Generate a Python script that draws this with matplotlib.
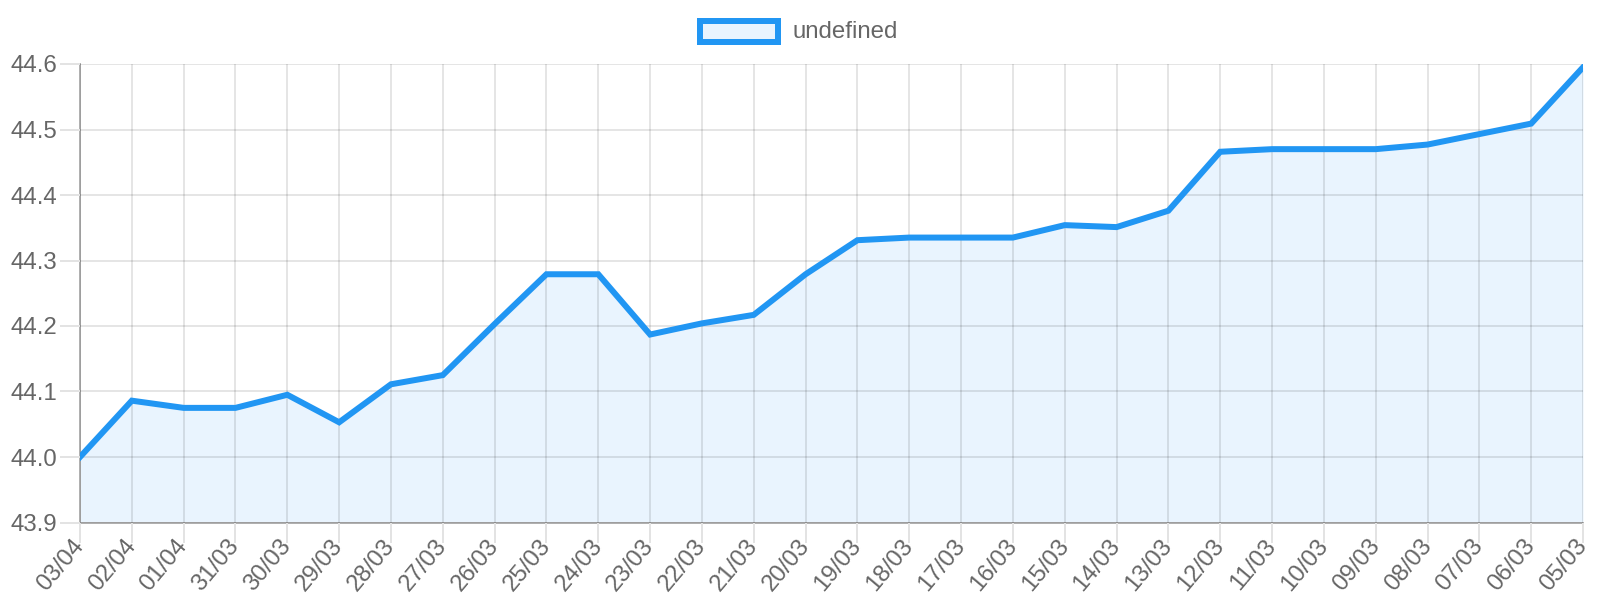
#!/usr/bin/env python3
import matplotlib

matplotlib.use("Agg")
import matplotlib.pyplot as plt
from matplotlib.patches import Rectangle

DATES = [
    "03/04", "02/04", "01/04", "31/03", "30/03", "29/03", "28/03", "27/03",
    "26/03", "25/03", "24/03", "23/03", "22/03", "21/03", "20/03", "19/03",
    "18/03", "17/03", "16/03", "15/03", "14/03", "13/03", "12/03", "11/03",
    "10/03", "09/03", "08/03", "07/03", "06/03", "05/03",
]
VALUES = [
    44.000, 44.086, 44.075, 44.075, 44.095, 44.053, 44.111, 44.125,
    44.203, 44.279, 44.279, 44.187, 44.204, 44.217, 44.279, 44.331,
    44.335, 44.335, 44.335, 44.354, 44.351, 44.376, 44.466, 44.470,
    44.470, 44.470, 44.477, 44.493, 44.509, 44.595,
]
Y_TICKS = [43.9, 44.0, 44.1, 44.2, 44.3, 44.4, 44.5, 44.6]
LEGEND_LABEL = "undefined"

LINE = "#2196f3"
FILL = "#e9f4fe"
TICK = "#e3e3e3"
TEXT = "#666666"
PX = 72 / 100  # points per pixel at dpi 100

plt.rcParams["font.family"] = ["Liberation Sans", "DejaVu Sans"]

fig = plt.figure(figsize=(16, 6), dpi=100)
ax = fig.add_axes([80 / 1600, 1 - 522.5 / 600, (1583 - 80) / 1600, (522.5 - 64) / 600])

x = list(range(len(DATES)))
ax.fill_between(x, VALUES, Y_TICKS[0], color=FILL, linewidth=0, zorder=1)
ax.plot(x, VALUES, color=LINE, linewidth=6 * PX, solid_joinstyle="miter", zorder=3)

ax.set_xlim(0, len(DATES) - 1)
ax.set_ylim(Y_TICKS[0], Y_TICKS[-1])
ax.set_xticks(x)
ax.set_xticklabels(DATES, rotation=50, ha="right", va="center", rotation_mode="anchor")
ax.set_yticks(Y_TICKS)
ax.set_yticklabels([f"{v:.1f}" for v in Y_TICKS])

ax.grid(True, color="black", alpha=0.1, linewidth=2 * PX, zorder=2)
ax.set_axisbelow(False)
ax.tick_params(axis="both", length=20 * PX, width=2 * PX, color=TICK,
               labelsize=24 * PX, labelcolor=TEXT)
ax.tick_params(axis="y", pad=2)
ax.tick_params(axis="x", pad=0)

for side in ("top", "right"):
    ax.spines[side].set_visible(False)
for side in ("left", "bottom"):
    ax.spines[side].set_color("#b0b0b0")
    ax.spines[side].set_linewidth(2 * PX)

# legend drawn like the original, centered above the plot
fig.patches.append(Rectangle((700 / 1600, 1 - 42 / 600), 78 / 1600, 21 / 600,
                             transform=fig.transFigure, facecolor=FILL,
                             edgecolor=LINE, linewidth=6 * PX))
fig.text(792 / 1600, 1 - 32 / 600, LEGEND_LABEL, color=TEXT, fontsize=24 * PX,
         ha="left", va="center")

fig.savefig("out.png", dpi=100)
